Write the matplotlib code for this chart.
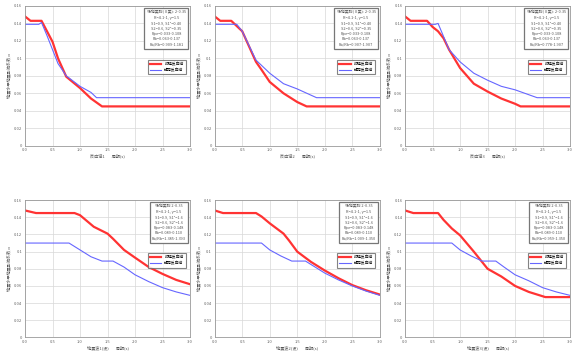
import matplotlib
matplotlib.use("Agg")
import matplotlib.pyplot as plt
import numpy as np

plt.rcParams['font.family'] = ['Noto Sans CJK SC', 'DejaVu Sans']

# periods (s) and spectrum values
red_T = [
    [0.0, 0.1, 0.3, 0.4, 0.5, 0.6, 0.75, 1.0, 1.2, 1.4, 3.0],
    [0.0, 0.1, 0.3, 0.4, 0.5, 0.6, 0.75, 0.85, 1.0, 1.25, 1.5, 1.67, 3.0],
    [0.0, 0.1, 0.4, 0.5, 0.6, 0.7, 0.8, 1.0, 1.25, 1.5, 1.75, 2.0, 2.1, 3.0],
    [0.0, 0.2, 0.9, 1.0, 1.25, 1.5, 1.6, 1.8, 2.0, 2.25, 2.5, 2.75, 3.0],
    [0.0, 0.15, 0.75, 0.85, 1.0, 1.25, 1.35, 1.5, 1.75, 2.0, 2.25, 2.5, 2.75, 3.0],
    [0.0, 0.15, 0.6, 0.7, 0.85, 1.0, 1.25, 1.5, 1.75, 2.0, 2.25, 2.55, 3.0],
]
red_A = [
    [0.148, 0.143, 0.143, 0.131, 0.119, 0.100, 0.079, 0.066, 0.054, 0.045, 0.045],
    [0.148, 0.143, 0.143, 0.137, 0.131, 0.117, 0.096, 0.087, 0.073, 0.060, 0.050, 0.045, 0.045],
    [0.148, 0.143, 0.143, 0.136, 0.131, 0.123, 0.110, 0.089, 0.071, 0.062, 0.054, 0.048, 0.045, 0.045],
    [0.148, 0.145, 0.145, 0.1425, 0.129, 0.121, 0.115, 0.102, 0.093, 0.082, 0.074, 0.067, 0.062],
    [0.148, 0.145, 0.145, 0.141, 0.133, 0.121, 0.113, 0.100, 0.088, 0.078, 0.069, 0.061, 0.055, 0.050],
    [0.148, 0.145, 0.145, 0.137, 0.127, 0.119, 0.100, 0.080, 0.071, 0.060, 0.053, 0.047, 0.047],
]
blue_T = [
    [0.0, 0.25, 0.3, 0.4, 0.5, 0.6, 0.75, 1.0, 1.2, 1.3, 3.0],
    [0.0, 0.4, 0.5, 0.75, 1.0, 1.25, 1.5, 1.85, 3.0],
    [0.0, 0.55, 0.6, 0.7, 0.8, 1.0, 1.25, 1.5, 1.75, 2.0, 2.4, 3.0],
    [0.0, 0.8, 1.0, 1.2, 1.4, 1.6, 1.8, 2.0, 2.25, 2.5, 2.75, 3.0],
    [0.0, 0.85, 1.0, 1.2, 1.4, 1.65, 1.8, 2.0, 2.25, 2.5, 2.75, 3.0],
    [0.0, 0.85, 1.0, 1.2, 1.4, 1.65, 1.8, 2.0, 2.25, 2.5, 2.75, 3.0],
]
blue_A = [
    [0.139, 0.139, 0.141, 0.126, 0.110, 0.094, 0.080, 0.068, 0.061, 0.055, 0.055],
    [0.139, 0.139, 0.131, 0.098, 0.083, 0.071, 0.065, 0.055, 0.055],
    [0.139, 0.139, 0.140, 0.125, 0.110, 0.096, 0.083, 0.075, 0.068, 0.064, 0.055, 0.055],
    [0.110, 0.110, 0.102, 0.094, 0.089, 0.089, 0.082, 0.073, 0.065, 0.058, 0.053, 0.049],
    [0.110, 0.110, 0.102, 0.095, 0.089, 0.089, 0.083, 0.075, 0.067, 0.060, 0.054, 0.049],
    [0.110, 0.110, 0.102, 0.095, 0.089, 0.089, 0.082, 0.073, 0.066, 0.058, 0.053, 0.049],
]

info_top = ["场地类别(Ⅱ类): 2-0.35",
            "R=4.1-1, γ=1.5",
            "S1=0.9, S1²=0.40",
            "S2=0.6, S2²=0.35",
            "Rpe=0.033-0.108",
            "Rb=0.063-0.137"]
ratio_top = ["Ra/Rb=0.909-1.181", "Ra/Rb=0.907-1.907", "Ra/Rb=0.778-1.907"]
info_bot = ["场地类别 2-0.35",
            "R=4.1-1, γ=1.5",
            "S1=0.9, S1²=1.6",
            "S2=0.6, S2²=1.6",
            "Rpe=0.083-0.148",
            "Rb=0.089-0.110"]
ratio_bot = ["Ra/Rb=1.385-1.393", "Ra/Rb=1.009-1.350", "Ra/Rb=0.959-1.350"]
xlab = ["反应谱1", "反应谱2", "反应谱3", "地震波1(设)", "地震波2(设)", "地震波3(设)"]
legend_labels = ["时程反应谱", "规范反应谱"]

fig = plt.figure(figsize=(5.82, 3.62), dpi=100)
lefts = [0.043, 0.369, 0.696]
bottoms = [0.5975, 0.068]
heights = [0.386, 0.379]

for i in range(6):
    r, c = divmod(i, 3)
    ax = fig.add_axes([lefts[c], bottoms[r], 0.2835, heights[r]])
    ax.plot(red_T[i], red_A[i], color='#ff3333', lw=1.6, label=legend_labels[0])
    ax.plot(blue_T[i], blue_A[i], color='#6666ff', lw=0.8, label=legend_labels[1])
    ax.set_xlim(0, 3.0)
    ax.set_ylim(0, 0.16)
    ax.set_xticks(np.arange(0, 3.01, 0.5))
    ax.set_yticks(np.arange(0, 0.161, 0.02))
    ax.set_xticklabels(["0.0", "0.5", "1.0", "1.5", "2.0", "2.5", "3.0"])
    ax.set_yticklabels(["0", "0.02", "0.04", "0.06", "0.08", "0.1", "0.12", "0.14", "0.16"])
    ax.tick_params(labelsize=3, length=0, pad=2, colors='#666666')
    ax.grid(True, color='#d8d8d8', lw=0.5)
    for s in ax.spines.values():
        s.set_color('#999999')
        s.set_linewidth(0.6)
    ax.set_xlabel(xlab[i] + "        周期(s)", fontsize=3, color='#555555', labelpad=1)
    ax.set_ylabel("地震水平地震影响系数 α", fontsize=3, color='#555555', labelpad=2)
    lines = (info_top if r == 0 else info_bot) + [(ratio_top if r == 0 else ratio_bot)[c]]
    ax.text(0.975, 0.97, "\n".join(lines), transform=ax.transAxes, ha='right', va='top',
            fontsize=2.8, color='#555555', linespacing=1.45, multialignment='center',
            bbox=dict(facecolor='white', edgecolor='#777777', lw=0.9, boxstyle='square,pad=0.6'))
    leg = ax.legend(loc='upper right', bbox_to_anchor=(0.985, 0.63), fontsize=2.8,
                    handlelength=3, frameon=True, fancybox=False, borderpad=0.5)
    leg.get_frame().set_edgecolor('#666666')
    leg.get_frame().set_linewidth(0.8)

fig.savefig("out.png", dpi=100)
